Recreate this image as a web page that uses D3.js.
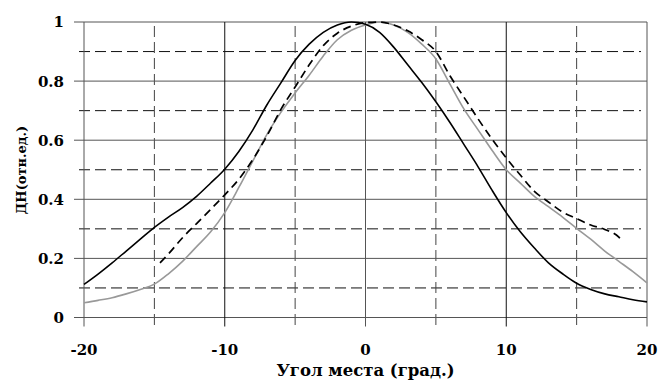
<!DOCTYPE html>
<html>
<head>
<meta charset="utf-8">
<script src="https://cdn.jsdelivr.net/npm/d3@7"></script>
<style>
  body { margin: 0; background: #fff; }
  svg { display: block; }
</style>
</head>
<body>
<svg id="chart" width="660" height="381"></svg>
<script>
// angle (deg) and relative pattern values
const solidAngles = [-20,-19,-18,-17,-16,-15,-14,-13,-12,-11,-10,-9,-8,-7,-6,-5,-4,-3,-2,-1,0,1,2,3,4,5,6,7,8,9,10,11,12,13,14,15,16,17,18,19,20];
const blackValues = [0.112,0.147,0.185,0.225,0.265,0.305,0.34,0.372,0.41,0.455,0.502,0.562,0.635,0.72,0.795,0.87,0.925,0.965,0.99,1.0,0.992,0.965,0.915,0.855,0.795,0.73,0.66,0.585,0.51,0.43,0.355,0.29,0.235,0.185,0.148,0.116,0.095,0.08,0.07,0.06,0.053];
const grayValues = [0.05,0.058,0.067,0.08,0.095,0.113,0.148,0.19,0.24,0.29,0.355,0.44,0.53,0.62,0.695,0.76,0.82,0.885,0.94,0.972,0.99,1.0,0.99,0.965,0.925,0.875,0.79,0.705,0.635,0.565,0.5,0.455,0.41,0.375,0.34,0.302,0.265,0.225,0.19,0.155,0.117];
const dashedAngles = [-14.6,-14,-13,-12,-11,-10,-9,-8,-7,-6,-5,-4,-3,-2,-1,0,1,2,3,4,5,6,7,8,9,10,11,12,13,14,15,16,17,18,18.3];
const dashedValues = [0.185,0.215,0.27,0.318,0.366,0.415,0.468,0.535,0.615,0.705,0.78,0.855,0.92,0.962,0.986,0.998,1.0,0.99,0.97,0.94,0.9,0.818,0.745,0.672,0.603,0.54,0.482,0.427,0.391,0.357,0.335,0.313,0.298,0.272,0.255];

const xMajor = [-20,-10,0,10,20];
const xMinor = [-15,-5,5,15];
const yMajor = [0,0.2,0.4,0.6,0.8,1];
const yMinor = [0.1,0.3,0.5,0.7,0.9];
const yTickLabels = ["0","0.2","0.4","0.6","0.8","1"];
const xTitle = "Угол места (град.)";
const yTitle = "ДН(отн.ед.)";

const FONT = "'DejaVu Serif', serif";

const svg = d3.select("#chart");
const margin = { left: 84, right: 647, top: 22, bottom: 317.5 };

const x = d3.scaleLinear().domain([-20, 20]).range([margin.left, margin.right]);
const y = d3.scaleLinear().domain([0, 1]).range([margin.bottom, margin.top]);

// grid - dashed minor lines
svg.append("g").selectAll("line").data(yMinor).enter().append("line")
  .attr("x1", margin.left - 5).attr("x2", margin.right - 6)
  .attr("y1", d => y(d)).attr("y2", d => y(d))
  .attr("stroke", "#111").attr("stroke-width", 1).attr("stroke-dasharray", "11,5");

svg.append("g").selectAll("line").data(xMinor).enter().append("line")
  .attr("x1", d => x(d)).attr("x2", d => x(d))
  .attr("y1", margin.top + 4).attr("y2", margin.bottom + 8)
  .attr("stroke", "#444").attr("stroke-width", 1).attr("stroke-dasharray", "11,5");

// grid - solid major lines (with ticks sticking out)
svg.append("g").selectAll("line").data(yMajor).enter().append("line")
  .attr("x1", margin.left - 10).attr("x2", margin.right)
  .attr("y1", d => y(d)).attr("y2", d => y(d))
  .attr("stroke", "#555").attr("stroke-width", 1);

svg.append("g").selectAll("line").data(xMajor).enter().append("line")
  .attr("x1", d => x(d)).attr("x2", d => x(d))
  .attr("y1", margin.top).attr("y2", margin.bottom + 9)
  .attr("stroke", (d, i) => (i == 1 || i == 3) ? "#111" : "#555").attr("stroke-width", 1);

// tick labels
svg.append("g").selectAll("text").data(yMajor).enter().append("text")
  .attr("x", margin.left - 20).attr("y", d => y(d)).attr("dy", "0.36em")
  .attr("text-anchor", "end")
  .attr("font-family", FONT).attr("font-weight", "bold").attr("font-size", 15)
  .text((d, i) => yTickLabels[i]);

svg.append("g").selectAll("text").data(xMajor).enter().append("text")
  .attr("x", d => x(d)).attr("y", 355)
  .attr("text-anchor", "middle")
  .attr("font-family", FONT).attr("font-weight", "bold").attr("font-size", 15)
  .text(d => d);

// axis titles
svg.append("text")
  .attr("x", x(0)).attr("y", 376)
  .attr("text-anchor", "middle")
  .attr("font-family", FONT).attr("font-weight", "bold").attr("font-size", 16.5)
  .text(xTitle);

svg.append("text")
  .attr("transform", "translate(26,170) rotate(-90)")
  .attr("text-anchor", "middle")
  .attr("font-family", FONT).attr("font-weight", "bold").attr("font-size", 13)
  .text(yTitle);

// curves
const line = d3.line()
  .x(d => x(d[0]))
  .y(d => y(d[1]))
  .curve(d3.curveMonotoneX);

svg.append("path")
  .datum(d3.zip(solidAngles, grayValues))
  .attr("fill", "none").attr("stroke", "#999").attr("stroke-width", 1.6)
  .attr("d", line);

svg.append("path")
  .datum(d3.zip(dashedAngles, dashedValues))
  .attr("fill", "none").attr("stroke", "#000").attr("stroke-width", 1.7)
  .attr("stroke-dasharray", "8,5")
  .attr("d", line);

svg.append("path")
  .datum(d3.zip(solidAngles, blackValues))
  .attr("fill", "none").attr("stroke", "#000").attr("stroke-width", 1.6)
  .attr("d", line);
</script>
</body>
</html>
